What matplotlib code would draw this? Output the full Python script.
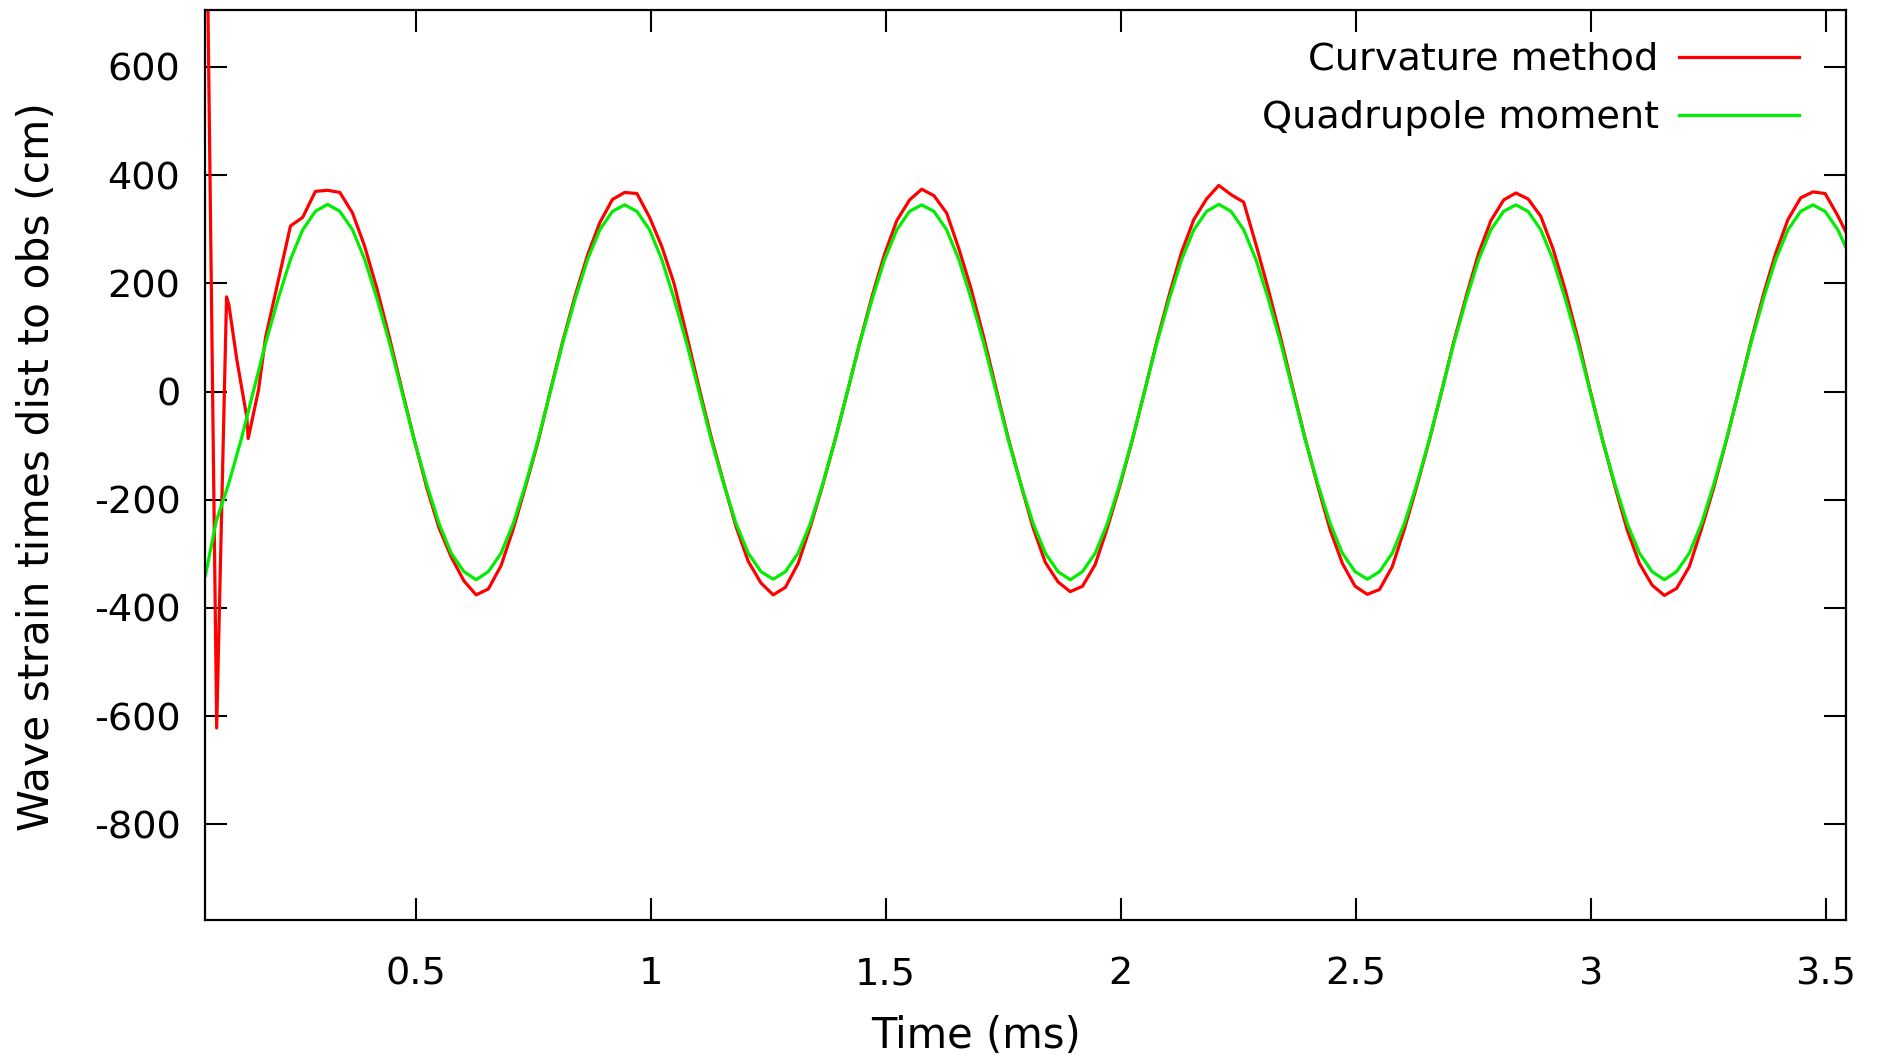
import numpy as np
import matplotlib
matplotlib.use("Agg")
from matplotlib import pyplot as plt

# --- data -------------------------------------------------------------------
# sample times (ms), shared by both curves after the start-up transient
time_ms = [
    0.076, 0.102, 0.129,
    0.155, 0.181, 0.208, 0.234, 0.260, 0.287, 0.313, 0.339, 0.366, 0.392, 0.418, 0.445,
    0.471, 0.497, 0.524, 0.550, 0.576, 0.603, 0.629, 0.655, 0.682, 0.708, 0.734, 0.761,
    0.787, 0.813, 0.840, 0.866, 0.892, 0.919, 0.945, 0.971, 0.998, 1.024, 1.050, 1.077,
    1.103, 1.129, 1.156, 1.182, 1.208, 1.235, 1.261, 1.287, 1.314, 1.340, 1.366, 1.393,
    1.419, 1.445, 1.472, 1.498, 1.524, 1.551, 1.577, 1.603, 1.630, 1.656, 1.682, 1.709,
    1.735, 1.761, 1.788, 1.814, 1.840, 1.867, 1.893, 1.919, 1.946, 1.972, 1.998, 2.025,
    2.051, 2.077, 2.104, 2.130, 2.156, 2.183, 2.209, 2.235, 2.262, 2.288, 2.314, 2.341,
    2.367, 2.393, 2.420, 2.446, 2.472, 2.499, 2.525, 2.551, 2.578, 2.604, 2.630, 2.657,
    2.683, 2.709, 2.736, 2.762, 2.788, 2.815, 2.841, 2.867, 2.894, 2.920, 2.946, 2.973,
    2.999, 3.025, 3.052, 3.078, 3.104, 3.131, 3.157, 3.183, 3.210, 3.236, 3.262, 3.289,
    3.315, 3.341, 3.368, 3.394, 3.420, 3.447, 3.473, 3.499, 3.526, 3.543,
]

# quadrupole moment (green), first value at t = 0.053 ms
quad_t0 = 0.053
quad_v0 = -340
quad = [
    -240, -172, -89,
    0, 89, 172, 244, 299, 333, 346, 333, 299, 244, 172, 89,
    0, -89, -172, -244, -299, -333, -348, -333, -299, -244, -172, -89,
    0, 89, 172, 244, 299, 333, 345, 333, 299, 244, 172, 89,
    0, -89, -172, -244, -299, -333, -347, -333, -299, -244, -172, -89,
    0, 89, 172, 244, 299, 333, 345, 333, 299, 244, 172, 89,
    0, -89, -172, -244, -299, -333, -348, -333, -299, -244, -172, -89,
    0, 89, 172, 244, 299, 333, 346, 333, 299, 244, 172, 89,
    0, -89, -172, -244, -299, -333, -347, -333, -299, -244, -172, -89,
    0, 89, 172, 244, 299, 333, 345, 333, 299, 244, 172, 89,
    0, -89, -172, -244, -299, -333, -348, -333, -299, -244, -172, -89,
    0, 89, 172, 244, 299, 333, 345, 333, 299, 267,
]

# curvature method (red): start-up transient, then on the shared grid from 0.181 ms
curv_head_t = [0.053, 0.077, 0.098, 0.103, 0.120, 0.141, 0.144, 0.166]
curv_head = [1100, -622, 175, 160, 58, -47, -87, 3]
curv = [
    100, 205, 306, 322, 370, 372, 368, 330, 268, 190, 98,
    4, -88, -178, -252, -306, -350, -376, -365, -322, -254, -176, -92,
    2, 92, 178, 252, 312, 355, 368, 366, 322, 268, 200, 104,
    8, -84, -170, -250, -314, -354, -376, -362, -318, -250, -174, -88,
    0, 90, 178, 254, 316, 354, 374, 362, 330, 264, 190, 100,
    6, -86, -172, -252, -316, -352, -370, -360, -320, -252, -176, -90,
    0, 92, 180, 258, 318, 356, 381, 364, 350, 272, 190, 98,
    4, -88, -176, -256, -318, -360, -375, -366, -324, -254, -176, -90,
    0, 92, 178, 256, 316, 354, 367, 356, 324, 264, 188, 98,
    2, -88, -176, -256, -318, -358, -377, -364, -324, -254, -178, -90,
    0, 92, 180, 256, 318, 358, 369, 366, 325, 295,
]

x_ticks = [0.5, 1, 1.5, 2, 2.5, 3, 3.5]
x_labels = ["0.5", "1", "1.5", "2", "2.5", "3", "3.5"]
y_ticks = [-800, -600, -400, -200, 0, 200, 400, 600]

plt.rcParams["font.family"] = ["DejaVu Sans"]
plt.rcParams["axes.unicode_minus"] = False

W, H = 1883, 1063
fig = plt.figure(figsize=(W / 100, H / 100), dpi=100)
left, right, top, bottom = 205.4, 1845.8, 9.6, 920.0
ax = fig.add_axes([left / W, 1 - bottom / H, (right - left) / W, (bottom - top) / H])

t_curv = np.concatenate([curv_head_t, time_ms[4:]])
v_curv = np.concatenate([curv_head, curv])
t_quad = np.concatenate([[quad_t0], time_ms])
v_quad = np.concatenate([[quad_v0], quad])

ax.plot(t_curv, v_curv, color="#ff0000", lw=2.3, solid_joinstyle="round",
        label="Curvature method")
ax.plot(t_quad, v_quad, color="#00ee00", lw=2.3, solid_joinstyle="round",
        label="Quadrupole moment")

ax.set_xlim(0.053, 3.543)
ax.set_ylim(-977, 706)
ax.set_xticks(x_ticks)
ax.set_xticklabels(x_labels)
ax.set_yticks(y_ticks)

ax.tick_params(
    direction="in", length=15.5, width=1.5, top=True, right=True, labelsize=27.5
)
ax.tick_params(axis="x", pad=26)
ax.tick_params(axis="y", pad=18)
for s in ax.spines.values():
    s.set_linewidth(1.6)

ax.set_xlabel("Time (ms)", fontsize=30)
ax.set_ylabel("Wave strain times dist to obs (cm)", fontsize=30.5)
ax.xaxis.set_label_coords(0.4696, -0.104)
ax.yaxis.set_label_coords(-0.090, 0.4976)

ax.legend(
    loc="upper right",
    bbox_to_anchor=(0.9715, 0.9645),
    frameon=False,
    markerfirst=False,
    fontsize=27.5,
    handlelength=3.14,
    handletextpad=0.53,
    labelspacing=0.59,
    borderpad=0,
    borderaxespad=0,
)

fig.savefig("out.png", dpi=100)
